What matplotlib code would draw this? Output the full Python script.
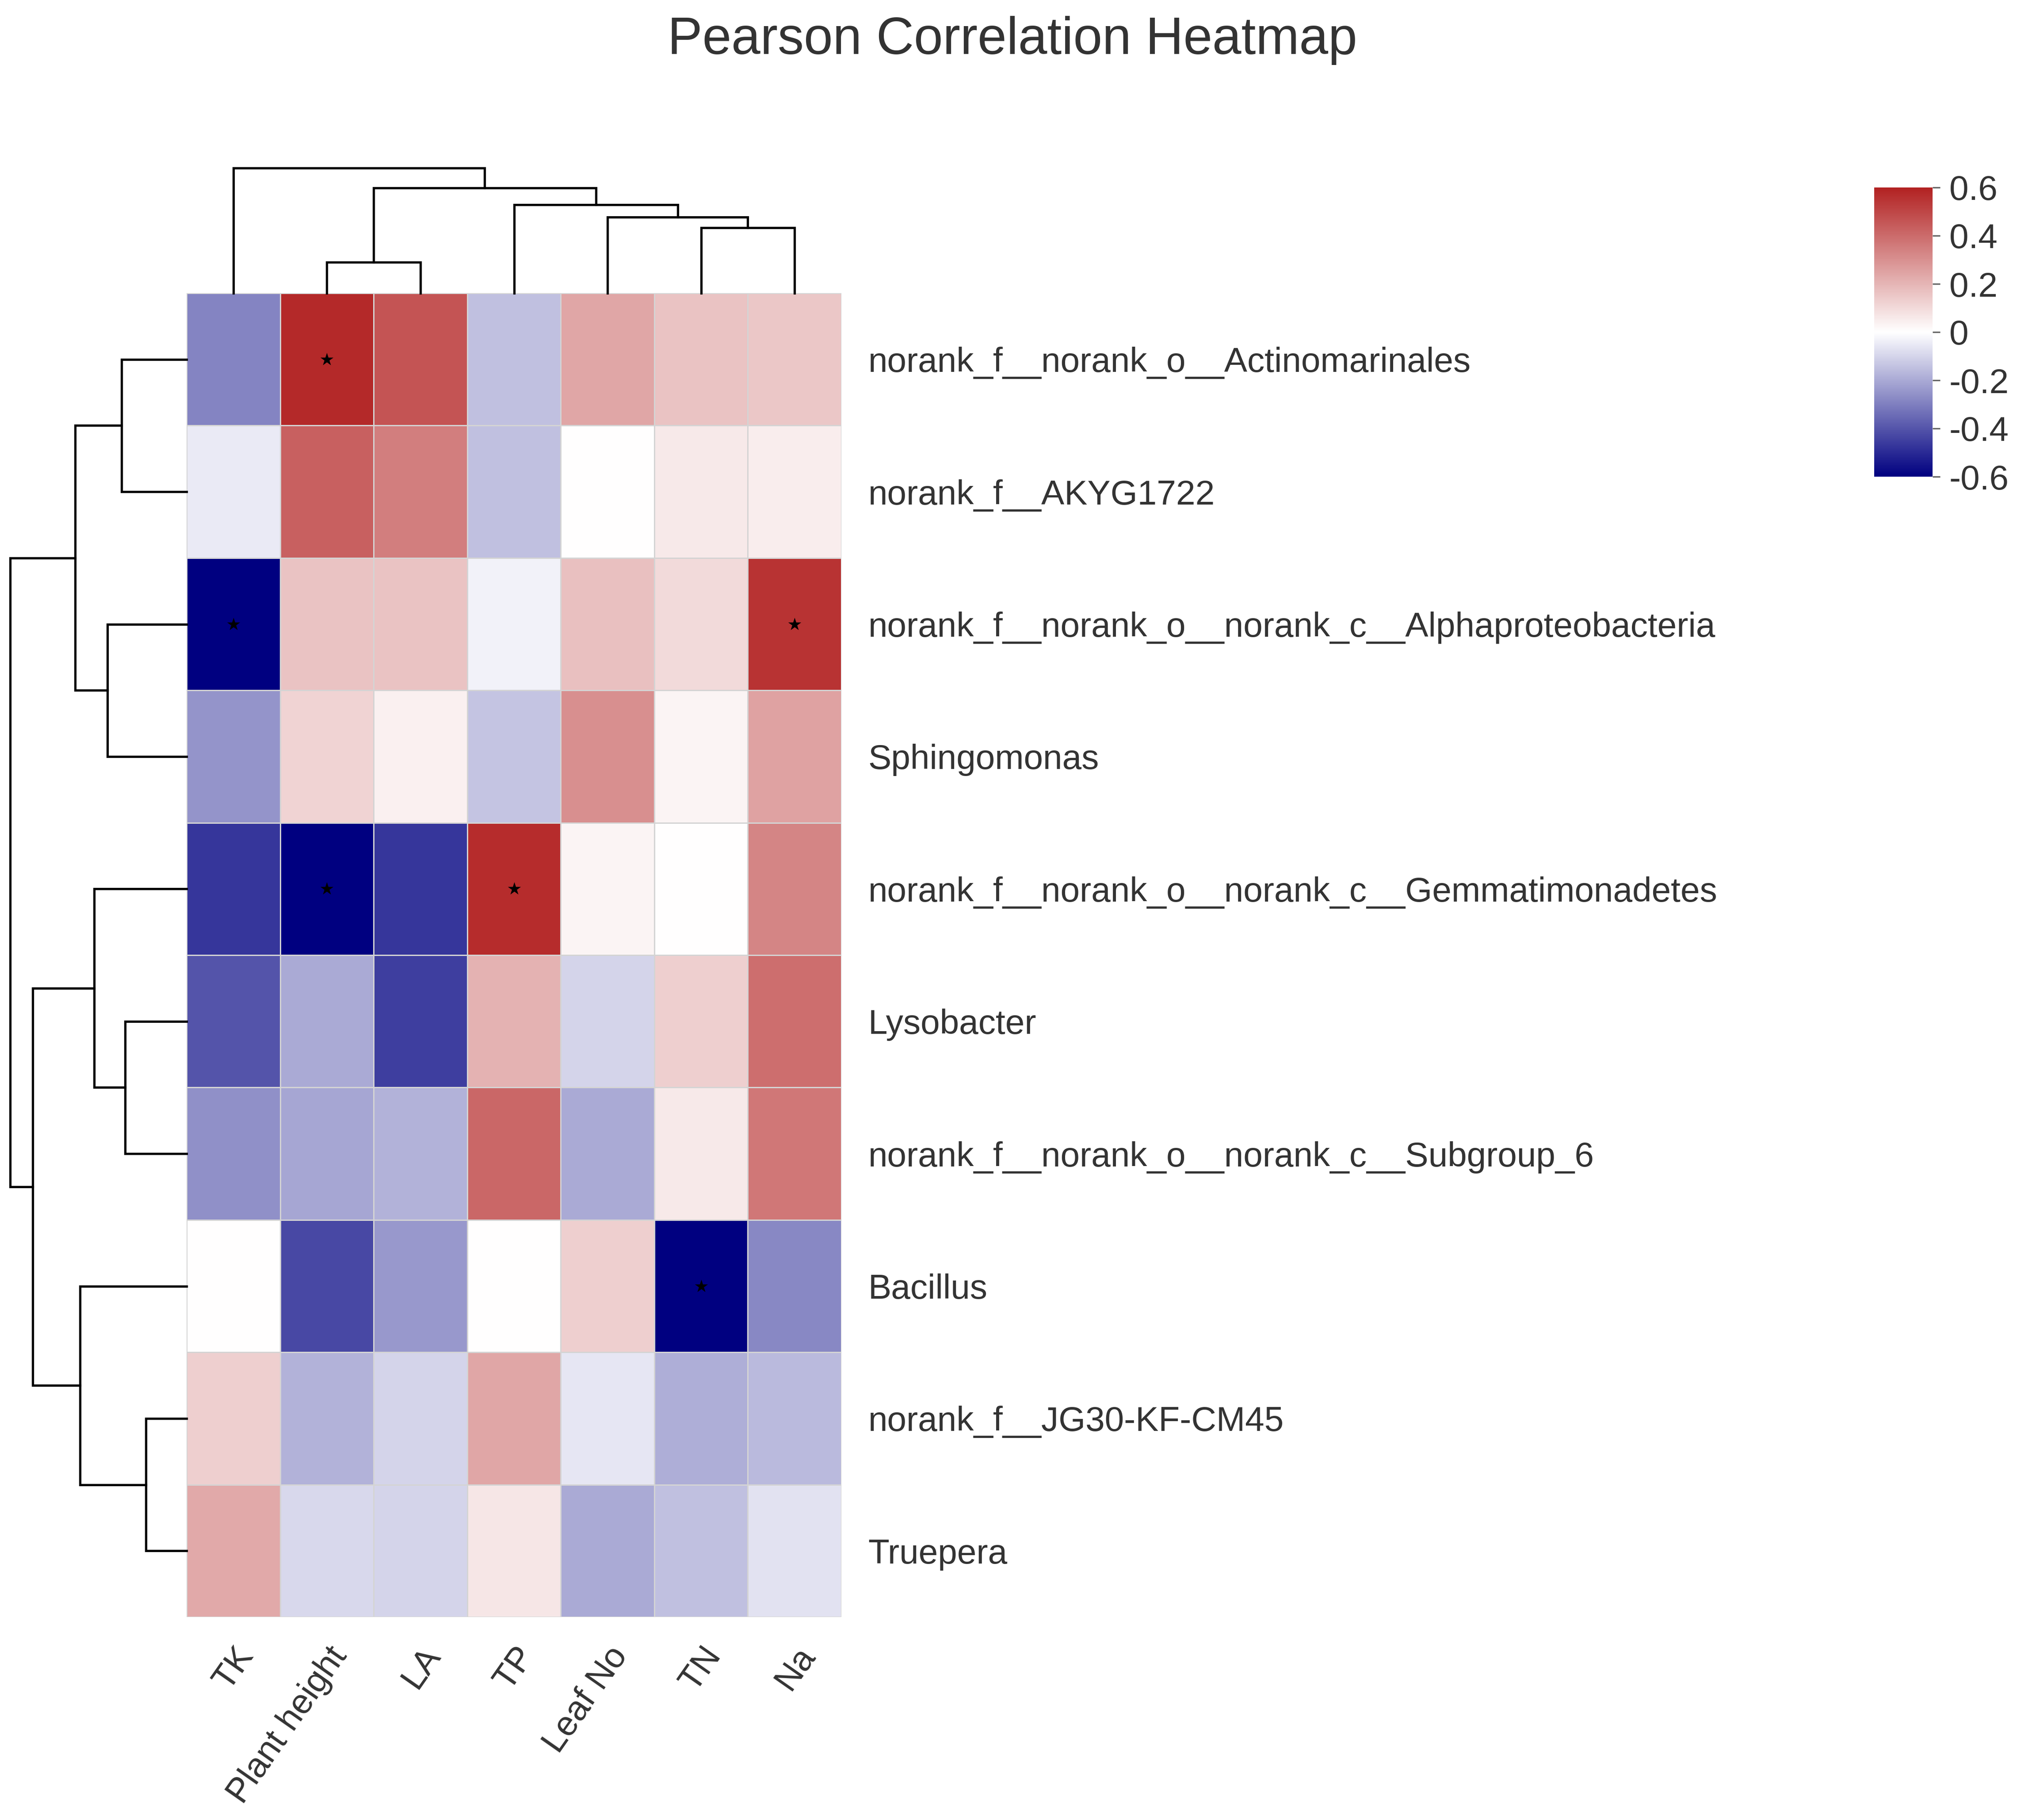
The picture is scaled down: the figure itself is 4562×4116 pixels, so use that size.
import numpy as np
import matplotlib
matplotlib.use("Agg")
import matplotlib.pyplot as plt
from matplotlib.colors import LinearSegmentedColormap

plt.rcParams['font.family'] = ['Liberation Sans', 'DejaVu Sans']

# --- data ---
traits = ['TK', 'Plant height', 'LA', 'TP', 'Leaf No', 'TN', 'Na']
taxa = [
    'norank_f__norank_o__Actinomarinales',
    'norank_f__AKYG1722',
    'norank_f__norank_o__norank_c__Alphaproteobacteria',
    'Sphingomonas',
    'norank_f__norank_o__norank_c__Gemmatimonadetes',
    'Lysobacter',
    'norank_f__norank_o__norank_c__Subgroup_6',
    'Bacillus',
    'norank_f__JG30-KF-CM45',
    'Truepera',
]
r_values = np.array([
    [-0.29,  0.58,  0.46, -0.15,  0.24,  0.16,  0.15],
    [-0.05,  0.43,  0.35, -0.15,  0.00,  0.06,  0.05],
    [-0.60,  0.16,  0.16, -0.03,  0.17,  0.10,  0.55],
    [-0.25,  0.12,  0.04, -0.14,  0.30,  0.03,  0.25],
    [-0.47, -0.60, -0.47,  0.57,  0.03,  0.00,  0.33],
    [-0.40, -0.20, -0.45,  0.21, -0.10,  0.13,  0.39],
    [-0.26, -0.21, -0.18,  0.41, -0.20,  0.06,  0.37],
    [ 0.00, -0.43, -0.24,  0.00,  0.13, -0.60, -0.28],
    [ 0.13, -0.18, -0.10,  0.24, -0.06, -0.19, -0.16],
    [ 0.23, -0.09, -0.10,  0.07, -0.20, -0.15, -0.07],
])
# significant cells (p < 0.05)
sig_rows = [0, 2, 2, 4, 4, 7]
sig_cols = [1, 0, 6, 1, 3, 5]

# linkage-style merges: (child a, child b, distance); new nodes numbered n, n+1, ...
col_links = [(1, 2, 0.35), (5, 6, 0.745), (4, 8, 0.865),
             (3, 9, 1.005), (7, 10, 1.195), (0, 11, 1.42)]
row_links = [(0, 1, 0.735), (2, 3, 0.895), (10, 11, 1.255),
             (5, 6, 0.695), (4, 13, 1.04), (8, 9, 0.46),
             (7, 15, 1.2), (14, 16, 1.735), (12, 17, 1.99)]

cbar_ticks = [0.6, 0.4, 0.2, 0, -0.2, -0.4, -0.6]
cbar_labels = ['0.6', '0.4', '0.2', '0', '-0.2', '-0.4', '-0.6']


def dendro_segments(links, n_leaves):
    pos = {i: i + 0.5 for i in range(n_leaves)}
    height = {i: 0.0 for i in range(n_leaves)}
    segs = []
    for k, (a, b, h) in enumerate(links):
        pa, pb = pos[a], pos[b]
        segs.append(([pa, pa, pb, pb], [height[a], h, h, height[b]]))
        pos[n_leaves + k] = (pa + pb) / 2
        height[n_leaves + k] = h
    return segs


W, H = 4562, 4116
fig = plt.figure(figsize=(W / 300, H / 300), dpi=300)
txt_color = '#333333'


def box(l, t, r, b):
    return [l / W, 1 - b / H, (r - l) / W, (b - t) / H]


cmap = LinearSegmentedColormap.from_list('nwf', ['navy', 'white', 'firebrick'])

# heatmap
ax = fig.add_axes(box(422, 663, 1903, 3657))
mesh = ax.pcolormesh(r_values, cmap=cmap, vmin=-0.6, vmax=0.6,
                     edgecolors='#d4d4d4', linewidth=0.6)
ax.scatter(np.array(sig_cols) + 0.5, np.array(sig_rows) + 0.5,
           marker='*', s=55, color='black', linewidths=0, zorder=3)
ax.set_xlim(0, len(traits))
ax.set_ylim(len(taxa), 0)
for s in ax.spines.values():
    s.set_visible(False)
ax.set_xticks(np.arange(len(traits)) + 0.5)
ax.set_xticklabels(traits, rotation=55, ha='right', va='top',
                   rotation_mode='anchor')
ax.yaxis.tick_right()
ax.set_yticks(np.arange(len(taxa)) + 0.5)
ax.set_yticklabels(taxa)
ax.tick_params(axis='x', length=0, pad=13, labelsize=18.8, labelcolor=txt_color)
ax.tick_params(axis='y', length=0, pad=14.5, labelsize=18.8, labelcolor=txt_color)

# column dendrogram
ax_col = fig.add_axes(box(422, 380, 1903, 663))
for xs, ys in dendro_segments(col_links, len(traits)):
    ax_col.plot(xs, ys, color='black', lw=1.25, clip_on=False,
                solid_joinstyle='miter')
ax_col.set_xlim(0, len(traits))
ax_col.set_ylim(0, max(l[2] for l in col_links))
ax_col.axis('off')

# row dendrogram
ax_row = fig.add_axes(box(23, 663, 422, 3657))
for ys, xs in dendro_segments(row_links, len(taxa)):
    ax_row.plot(xs, ys, color='black', lw=1.25, clip_on=False,
                solid_joinstyle='miter')
ax_row.set_ylim(len(taxa), 0)
ax_row.set_xlim(max(l[2] for l in row_links), 0)
ax_row.axis('off')

# colorbar
cax = fig.add_axes(box(4239, 424, 4371, 1078))
cbar = fig.colorbar(mesh, cax=cax)
cbar.set_ticks(cbar_ticks)
cbar.set_ticklabels(cbar_labels)
cbar.outline.set_visible(False)
cax.tick_params(length=4, width=0.8, color='#666666', pad=5,
                labelsize=18.8, labelcolor=txt_color)

fig.text(2290 / W, 1 - 122 / H, 'Pearson Correlation Heatmap',
         ha='center', va='baseline', fontsize=28.3, color=txt_color)

fig.savefig('out.png', dpi=300, facecolor='white')
